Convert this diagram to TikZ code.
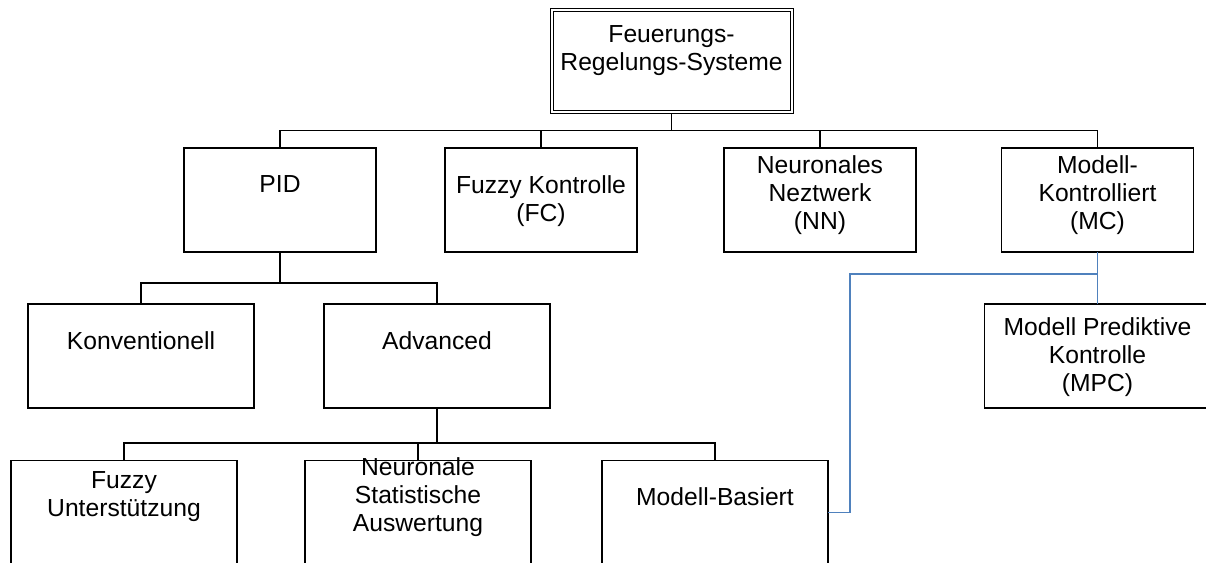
\documentclass[tikz,border=0pt]{standalone}
\usepackage{fontspec}
\setmainfont{Liberation Sans}
\usepackage{xcolor}
\definecolor{mcblue}{RGB}{79,129,189}
\usetikzlibrary{positioning, calc}

\begin{document}
\begin{tikzpicture}[
		x=0.75pt, y=-0.75pt,
		block/.style={rectangle, draw=black, line width=0.8pt, minimum width=144pt, minimum height=78pt,
			inner sep=0pt, outer sep=0pt},
		wideblock/.style={block, minimum width=169.5pt},
		topblock/.style={block, double, double distance=1.5pt, line width=0.75pt,
			minimum width=180pt, minimum height=76.5pt, outer sep=1.5pt},
		txt/.style={align=center, inner sep=0pt, font=\fontsize{18.5}{21}\selectfont},
		link/.style={draw=black, line width=0.8pt},
		bluelink/.style={draw=mcblue, line width=0.8pt},
		]
		\useasboundingbox (0,0) rectangle (1206,563);
		\clip (0,0) rectangle (1206,563);

		% Blocks
		\node[topblock] (top) at (671.5,61.5) {};
		\node[block] (pid) at (280,200) {};
		\node[block] (fc) at (541,200) {};
		\node[block] (nn) at (820,200) {};
		\node[block] (mc) at (1097.5,200) {};
		\node[wideblock] (konv) at (141,356) {};
		\node[wideblock] (adv) at (437,356) {};
		\node[wideblock] (mpc) at (1097.5,356) {};
		\node[wideblock] (fu) at (124,512.5) {};
		\node[wideblock] (nsa) at (418,512.5) {};
		\node[wideblock] (mb) at (715,512.5) {};

		% Texts
		\node[txt] (toptxt) at (671.5,51) {Feuerungs-\\Regelungs-Systeme};
		\node[txt] (pidtxt) at (280,184) {PID};
		\node[txt] (fctxt) at (541,201) {Fuzzy Kontrolle\\(FC)};
		\node[txt] (nntxt) at (820,195) {Neuronales\\Neztwerk\\(NN)};
		\node[txt] (mctxt) at (1097.5,195) {Modell-\\Kontrolliert\\(MC)};
		\node[txt] (konvtxt) at (141,341) {Konventionell};
		\node[txt] (advtxt) at (437,341) {Advanced};
		\node[txt] (mpctxt) at (1097.5,357) {Modell Prediktive\\Kontrolle\\(MPC)};
		\node[txt] (futxt) at (124,497) {Fuzzy\\Unterstützung};
		\node[txt] (nsatxt) at (418,497) {Neuronale\\Statistische\\Auswertung};
		\node[txt] (mbtxt) at (715,497) {Modell-Basiert};

		% Connectors
		\foreach \child in {pid, fc, nn, mc}
			\draw[link] (top.south) -- ++(0,16) -| (\child.north);
		\foreach \child in {konv, adv}
			\draw[link] (pid.south) -- ++(0,31) -| (\child.north);
		\foreach \child in {fu, nsa, mb}
			\draw[link] (adv.south) -- ++(0,35) -| (\child.north);
		\draw[bluelink] (mc.south) -- (mpc.north);
		\draw[bluelink] (mc.south) -- ++(0,22) -| ($(mb.east)+(22,0)$) -- (mb.east);
	\end{tikzpicture}
\end{document}
